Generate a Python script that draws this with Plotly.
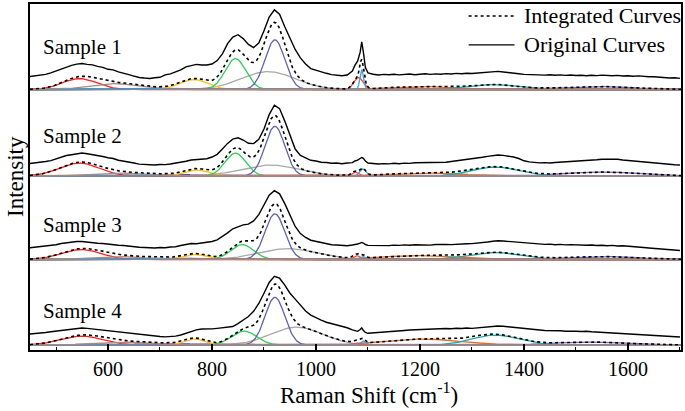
import numpy as np
import plotly.graph_objects as go

# ---------------- data ----------------
SAMPLES = ["Sample 1", "Sample 2", "Sample 3", "Sample 4"]

# fitted component bands (order: red, mauve, low blue, yellow, green, gray, slate, red-2, light blue, orange, teal, purple)
S1_CENTER = [545, 610, 700, 765, 845, 908, 921, 1082, 1088, 1200, 1340, 1540]
S1_HEIGHT = [11, 6, 1.2, 10, 31, 18, 50, 12, 20, 3, 5, 3]
S1_WIDTH = [33, 45, 60, 27, 20, 52, 19, 9, 3.5, 60, 45, 70]

S2_CENTER = [545, 620, 720, 770, 845, 912, 921, 1075, 1090, 1210, 1345, 1550]
S2_HEIGHT = [13, 3, 1.5, 6, 23, 11, 50, 4, 7, 3, 9, 4]
S2_WIDTH = [38, 50, 60, 22, 20, 55, 19, 6, 6, 70, 45, 70]

S3_CENTER = [548, 620, 720, 768, 858, 945, 921, 1078, 1090, 1195, 1345, 1550]
S3_HEIGHT = [10, 3, 1.5, 5, 15, 11, 46, 4, 3, 4, 7, 3]
S3_WIDTH = [38, 50, 60, 22, 22, 55, 19, 6, 5, 70, 50, 70]

S4_CENTER = [549, 620, 720, 767, 862, 963, 921, 1078, 1090, 1205, 1345, 1530]
S4_HEIGHT = [9, 3, 1.5, 6, 14, 18, 48, 2, 4, 6, 10, 3]
S4_WIDTH = [40, 50, 60, 20, 24, 50, 19, 7, 5, 70, 45, 70]

# measured (original) spectra
X_ORIG = (list(range(450, 1070, 10))
          + [1070, 1075, 1080, 1085, 1088, 1091, 1095, 1100]
          + list(range(1110, 1710, 10)))

S1_ORIG = [
    13, 13.6, 14.1, 15.2, 16.7, 18.6, 20.2, 22.9, 24.3, 25.5,
    26.1, 25.3, 24.8, 23.2, 22.2, 20.3, 19.7, 17.8, 16.7, 15.0,
    13.5, 12.1, 11.5, 11.1, 11.8, 12.3, 14.7, 15.7, 17.8, 19.7,
    22.7, 24.2, 25.3, 24.7, 24.7, 25.6, 29.1, 35.8, 46.2, 52.8,
    55.1, 51.2, 45.3, 42.2, 46.8, 59.2, 72.8, 80.1, 75.8, 63.2,
    51.8, 40.3, 31.8, 25.7, 21.0, 19.4, 17.3, 16.3, 15.0, 14.7,
    13.8, 14.6, 18.5, 24.5, 28.5, 37.5, 48.0, 38.0, 22.0, 16.8,
    15.3, 14.6, 15.2, 14.8, 15.4, 14.7, 15.1, 15.6, 14.9, 15.3,
    15.8, 15.2, 15.7, 15.3, 16.0, 15.6, 16.2, 15.8, 16.4, 16.1,
    16.6, 17.1, 17.4, 17.9, 18.2, 17.6, 17.2, 16.3, 15.8, 15.2,
    15.0, 14.6, 15.1, 14.5, 14.8, 14.3, 14.7, 14.2, 14.6, 14.1,
    14.4, 13.9, 14.3, 14.0, 14.5, 14.1, 13.8, 14.2, 13.6, 13.9,
    13.4, 13.7, 13.1, 12.8, 12.9, 12.3, 12.0, 11.6, 11.8, 11.2,
]
S2_ORIG = [
    12.6, 13.1, 13.4, 14.6, 15.4, 17.1, 18.4, 20.6, 21.4, 22.6,
    23.1, 22.4, 21.6, 20.4, 19.6, 18.4, 17.6, 15.9, 15.1, 13.9,
    13.1, 11.9, 11.6, 11.4, 11.1, 11.6, 11.4, 12.1, 12.9, 14.1,
    14.9, 16.1, 16.4, 17.1, 17.4, 19.1, 21.8, 27.2, 32.8, 37.1,
    38.4, 36.2, 32.9, 32.6, 36.8, 47.2, 61.8, 71.2, 67.8, 55.2,
    40.2, 27.1, 20.8, 18.2, 15.8, 15.1, 13.9, 13.6, 12.9, 13.1,
    12.4, 13.1, 13.4, 15.1, 15.9, 17.6, 18.6, 17.8, 15.1, 13.1,
    12.6, 12.1, 12.5, 12.2, 12.8, 12.4, 13.0, 12.7, 13.3, 13.4,
    13.2, 13.8, 13.5, 14.1, 13.8, 14.6, 15.2, 15.9, 16.6, 17.4,
    18.1, 18.9, 19.8, 20.6, 21.1, 20.8, 20.1, 19.1, 17.6, 15.3,
    14.2, 13.6, 13.2, 13.5, 13.1, 13.6, 13.9, 14.1, 14.6, 14.5,
    15.1, 15.4, 16.0, 16.3, 16.9, 17.1, 16.6, 16.8, 16.1, 15.6,
    14.8, 14.2, 13.6, 13.1, 12.6, 12.8, 12.1, 11.8, 11.3, 11.0,
]
S3_ORIG = [
    11.8, 12.4, 12.9, 13.6, 14.1, 14.9, 16.1, 16.8, 17.6, 18.1,
    18.2, 17.4, 17.2, 16.4, 16.1, 15.4, 15.1, 14.4, 14.1, 13.4,
    13.1, 12.4, 12.1, 11.8, 11.6, 12.1, 11.9, 12.6, 12.9, 14.1,
    14.8, 16.1, 15.9, 16.6, 16.9, 18.1, 19.8, 23.1, 26.8, 30.9,
    33.2, 34.8, 35.6, 38.8, 45.2, 55.1, 64.8, 69.2, 66.1, 56.2,
    44.1, 33.2, 26.1, 22.2, 19.4, 18.1, 16.9, 16.1, 14.9, 14.6,
    14.1, 13.9, 14.6, 14.9, 15.6, 16.4, 17.2, 16.6, 15.1, 14.2,
    14.1, 13.8, 14.3, 14.0, 14.5, 14.2, 14.7, 14.4, 14.9, 14.6,
    14.9, 14.5, 15.1, 14.8, 15.2, 15.0, 15.5, 15.3, 15.8, 16.0,
    16.4, 16.9, 17.6, 18.4, 18.9, 18.6, 18.2, 17.6, 17.0, 16.3,
    16.1, 15.6, 15.8, 15.2, 15.5, 14.9, 15.2, 14.7, 15.0, 14.6,
    14.8, 14.3, 14.6, 14.1, 14.4, 13.9, 14.2, 13.6, 13.8, 13.2,
    13.0, 12.5, 12.1, 11.6, 11.2, 10.8, 10.3, 9.9, 9.6, 9.1,
]
S4_ORIG = [
    11.1, 11.4, 12.1, 12.6, 13.4, 14.1, 14.9, 15.6, 16.4, 16.8,
    17.1, 16.7, 16.1, 15.8, 14.9, 14.3, 13.6, 12.9, 12.4, 11.6,
    11.1, 10.4, 9.9, 9.6, 8.9, 8.6, 8.2, 8.4, 8.9, 10.1,
    11.8, 13.6, 15.2, 16.1, 15.8, 16.2, 16.8, 17.2, 17.9, 18.6,
    21.6, 24.8, 28.7, 33.9, 41.8, 52.1, 62.9, 69.1, 67.2, 60.3,
    52.1, 46.2, 40.1, 34.2, 30.1, 27.2, 25.1, 22.9, 21.6, 20.1,
    18.6, 17.4, 15.2, 14.1, 13.8, 15.6, 17.2, 14.8, 12.6, 11.8,
    12.1, 12.4, 12.9, 13.3, 13.8, 14.2, 14.6, 15.1, 15.3, 15.8,
    16.1, 15.8, 16.4, 16.2, 16.6, 16.3, 16.9, 16.6, 17.1, 16.8,
    17.4, 17.9, 18.3, 18.8, 19.2, 18.9, 18.3, 17.6, 16.9, 16.2,
    15.8, 15.3, 15.1, 14.6, 14.7, 14.2, 14.4, 13.9, 14.1, 13.8,
    13.6, 13.9, 13.4, 13.1, 12.8, 12.9, 12.4, 12.1, 11.8, 11.5,
    11.2, 10.9, 10.5, 10.1, 9.8, 9.4, 9.1, 8.7, 8.4, 8.1,
]

X_TICKS = [600, 800, 1000, 1200, 1400, 1600]
LEGEND_NAMES = ["Integrated Curves", "Original Curves"]

# ---------------- styling / layout ----------------
STACK = [257, 170, 86, 0]             # vertical offset of each panel
LABEL_Y = [300, 210, 121, 34]         # vertical position of sample labels
COMP_COLORS = ["#FF1E1E", "#A88A80", "#4B4BB0", "#FFC21A", "#2ECC5A", "#A8A8A8",
               "#5F62A8", "#FF4A3A", "#3E9FD8", "#E86A24", "#1FAAA8", "#7A6CC0"]
DRAW_ORDER = [2, 11, 9, 10, 5, 3, 4, 6, 0, 7, 8, 1]
SERIF = "Liberation Serif"
LEG_DASH = ["dot", "solid"]
LEG_Y = [0.9655, 0.882]               # legend rows (paper coords)

params = [(S1_CENTER, S1_HEIGHT, S1_WIDTH, S1_ORIG),
          (S2_CENTER, S2_HEIGHT, S2_WIDTH, S2_ORIG),
          (S3_CENTER, S3_HEIGHT, S3_WIDTH, S3_ORIG),
          (S4_CENTER, S4_HEIGHT, S4_WIDTH, S4_ORIG)]

x = np.arange(450, 1703, 1.0)
xo = np.array(X_ORIG, dtype=float)

fig = go.Figure()
for i, (cen, hgt, wid, orig) in enumerate(params):
    off = STACK[i]
    comps = [h * np.exp(-(x - c) ** 2 / (2 * w ** 2)) for c, h, w in zip(cen, hgt, wid)]
    for j in DRAW_ORDER:
        fig.add_trace(go.Scatter(x=x, y=comps[j] + off, mode="lines",
                                 line=dict(color=COMP_COLORS[j], width=1.3),
                                 showlegend=False, hoverinfo="skip"))
    integ = np.sum(comps, axis=0)
    fig.add_trace(go.Scatter(x=x, y=integ + off, mode="lines", name=LEGEND_NAMES[0],
                             line=dict(color="black", width=1.6, dash="dot"),
                             showlegend=False))
    fig.add_trace(go.Scatter(x=xo, y=np.array(orig) + off, mode="lines", name=LEGEND_NAMES[1],
                             line=dict(color="black", width=1.4),
                             showlegend=False))
    fig.add_annotation(x=471, y=LABEL_Y[i], text=SAMPLES[i], showarrow=False,
                       xanchor="left", yanchor="middle",
                       font=dict(family=SERIF, size=21, color="black"))

# legend (drawn as key lines + labels)
for k in range(2):
    fig.add_shape(type="line", xref="paper", yref="paper",
                  x0=0.6738, x1=0.7443, y0=LEG_Y[k], y1=LEG_Y[k],
                  line=dict(color="black", width=1.6 if k == 0 else 1.4, dash=LEG_DASH[k]))
    fig.add_annotation(xref="paper", yref="paper", x=0.755, y=LEG_Y[k],
                       text=LEGEND_NAMES[k], showarrow=False,
                       xanchor="left", yanchor="middle",
                       font=dict(family=SERIF, size=22, color="black"))

fig.add_annotation(xref="paper", yref="paper", x=0.52, y=-0.125,
                   text="Raman Shift (cm<sup>-1</sup>)", showarrow=False,
                   xanchor="center", yanchor="middle",
                   font=dict(family=SERIF, size=23, color="black"))
fig.add_annotation(xref="paper", yref="paper", x=-0.023, y=0.5, text="Intensity",
                   textangle=-90, showarrow=False, xanchor="center", yanchor="middle",
                   font=dict(family=SERIF, size=23, color="black"))

fig.update_layout(
    width=685, height=411,
    margin=dict(l=30, r=2, t=2, b=61),
    paper_bgcolor="white", plot_bgcolor="white",
    font=dict(family=SERIF, color="black"),
    showlegend=False,
    xaxis=dict(range=[450, 1702], tickvals=X_TICKS, ticks="inside", ticklen=6,
               tickwidth=1.5, tickcolor="black", showline=True, linewidth=2,
               linecolor="black", mirror=True, showgrid=False, zeroline=False,
               tickfont=dict(family=SERIF, size=20, color="black"),
               minor=dict(dtick=100, tick0=500, ticks="inside", ticklen=3,
                          tickwidth=1.2, tickcolor="black", showgrid=False)),
    yaxis=dict(range=[-5, 343], showticklabels=False, ticks="", showline=True,
               linewidth=2, linecolor="black", mirror=True, showgrid=False,
               zeroline=False),
)

fig.write_html("out.html", config={"displayModeBar": False},
               post_script="document.body.style.margin='0';")
